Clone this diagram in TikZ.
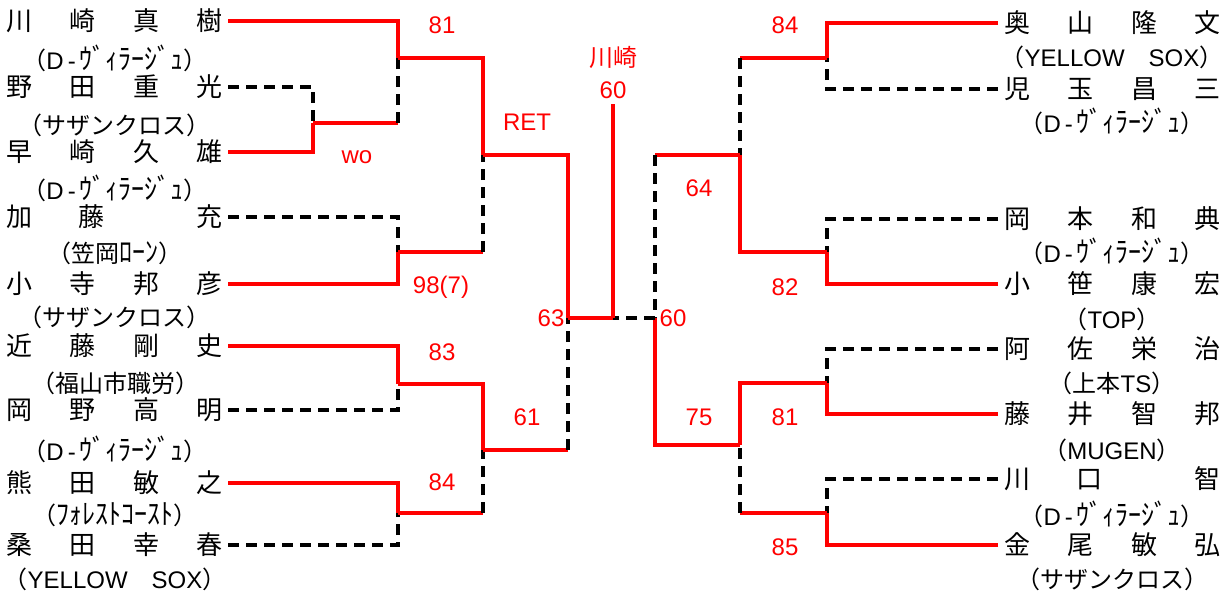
\documentclass[tikz,border=0pt]{standalone}
\usepackage{fontspec}
\usepackage{graphicx}
\newfontfamily\jpfont{Noto Sans CJK JP}
\newfontfamily\numfont{Liberation Sans}
\newcommand{\nmfour}[4]{\makebox[216pt][s]{#1\hfill#2\hfill#3\hfill#4}}
\newcommand{\nmthree}[3]{\makebox[216pt][s]{#1\hfill#2\hfill\hfill#3}}
\newcommand{\hw}[1]{\scalebox{1.08}[1.2]{#1}}
\newcommand{\lat}[1]{{\numfont #1}}

\tikzset{every picture/.style={line width=0.75pt}}
\tikzset{
  lname/.style={anchor=east, inner xsep=5pt, inner ysep=0pt, font=\jpfont\fontsize{26}{30}\selectfont},
  rname/.style={anchor=west, inner xsep=6pt, inner ysep=0pt, font=\jpfont\fontsize{26}{30}\selectfont},
  team/.style={anchor=base, inner sep=0pt, font=\jpfont\fontsize{24}{28}\selectfont},
  score/.style={text=red, inner sep=0pt, font=\numfont\fontsize{24}{28}\selectfont},
  win/.style={draw=red, line width=3.4pt},
  lose/.style={draw=black, line width=3.4pt, dash pattern=on 11pt off 7pt},
}

\begin{document}
\begin{tikzpicture}[x=1pt,y=1pt,yscale=-1,xscale=1]
\useasboundingbox (0,0) rectangle (1221,592);

% left players
\node[lname] (p1) at (228,21) {\nmfour{川}{崎}{真}{樹}};
\node[team] (t1) at (115,69) {（\lat{D}\,\lat{-}\,\hw{ｳﾞｨﾗｰｼﾞｭ}）};
\node[lname] (p2) at (228,87) {\nmfour{野}{田}{重}{光}};
\node[team] (t2) at (115,134) {（サザンクロス）};
\node[lname] (p3) at (228,152) {\nmfour{早}{崎}{久}{雄}};
\node[team] (t3) at (115,199) {（\lat{D}\,\lat{-}\,\hw{ｳﾞｨﾗｰｼﾞｭ}）};
\node[lname] (p4) at (228,217) {\nmthree{加}{藤}{充}};
\node[team] (t4) at (115,262) {（笠岡\hw{ﾛｰﾝ}）};
\node[lname] (p5) at (228,284) {\nmfour{小}{寺}{邦}{彦}};
\node[team] (t5) at (115,326) {（サザンクロス）};
\node[lname] (p6) at (228,346) {\nmfour{近}{藤}{剛}{史}};
\node[team] (t6) at (115,392) {（福山市職労）};
\node[lname] (p7) at (228,410) {\nmfour{岡}{野}{高}{明}};
\node[team] (t7) at (115,460) {（\lat{D}\,\lat{-}\,\hw{ｳﾞｨﾗｰｼﾞｭ}）};
\node[lname] (p8) at (228,483) {\nmfour{熊}{田}{敏}{之}};
\node[team] (t8) at (115,524) {（\hw{ﾌｫﾚｽﾄｺｰｽﾄ}）};
\node[lname] (p9) at (228,545) {\nmfour{桑}{田}{幸}{春}};
\node[team] (t9) at (115,588) {（\lat{YELLOW}　\lat{SOX}）};

% right players
\node[rname] (q1) at (998,23) {\nmfour{奥}{山}{隆}{文}};
\node[team] (u1) at (1112,66) {（\lat{YELLOW}　\lat{SOX}）};
\node[rname] (q2) at (998,89) {\nmfour{児}{玉}{昌}{三}};
\node[team] (u2) at (1112,132) {（\lat{D}\,\lat{-}\,\hw{ｳﾞｨﾗｰｼﾞｭ}）};
\node[rname] (q3) at (998,219) {\nmfour{岡}{本}{和}{典}};
\node[team] (u3) at (1112,262) {（\lat{D}\,\lat{-}\,\hw{ｳﾞｨﾗｰｼﾞｭ}）};
\node[rname] (q4) at (998,284) {\nmfour{小}{笹}{康}{宏}};
\node[team] (u4) at (1112,328) {（\lat{TOP}）};
\node[rname] (q5) at (998,349) {\nmfour{阿}{佐}{栄}{治}};
\node[team] (u5) at (1112,392) {（上本\lat{TS}）};
\node[rname] (q6) at (998,414) {\nmfour{藤}{井}{智}{邦}};
\node[team] (u6) at (1112,459) {（\lat{MUGEN}）};
\node[rname] (q7) at (998,479) {\nmthree{川}{口}{智}};
\node[team] (u7) at (1112,525) {（\lat{D}\,\lat{-}\,\hw{ｳﾞｨﾗｰｼﾞｭ}）};
\node[rname] (q8) at (998,545) {\nmfour{金}{尾}{敏}{弘}};
\node[team] (u8) at (1112,588) {（サザンクロス）};

% match points
\coordinate (m0) at (313,123);
\coordinate (m1) at (398,58);
\coordinate (m2) at (398,252);
\coordinate (m3) at (483,155);
\coordinate (m6) at (398,384);
\coordinate (m7) at (398,513);
\coordinate (m5) at (483,450);
\coordinate (m4) at (568,318);
\coordinate (fc) at (613,318);
\coordinate (r1) at (827,58);
\coordinate (r2) at (827,252);
\coordinate (r3) at (740,155);
\coordinate (r5) at (827,383);
\coordinate (r6) at (827,513);
\coordinate (r4) at (740,445);
\coordinate (r7) at (655,318);

% left bracket
\draw[lose] (p2.east) -| (m0);
\draw[win] (p3.east) -| (m0);
\draw[win] (p1.east) -| (m1);
\draw[win] (m0) -- (m0-|m1);
\draw[lose] (m0-|m1) -- (m1);
\draw[lose] (p4.east) -| (m2);
\draw[win] (p5.east) -| (m2);
\draw[win] (m1) -| (m3);
\draw[win] (m2) -- (m2-|m3);
\draw[lose] (m2-|m3) -- (m3);
\draw[win] (p6.east) -| (m6);
\draw[lose] (p7.east) -| (m6);
\draw[win] (p8.east) -| (m7);
\draw[lose] (p9.east) -| (m7);
\draw[win] (m6) -| (m5);
\draw[win] (m7) -- (m7-|m5);
\draw[lose] (m7-|m5) -- (m5);
\draw[win] (m3) -| (m4);
\draw[win] (m5) -- (m5-|m4);
\draw[lose] (m5-|m4) -- (m4);

% right bracket
\draw[win] (q1.west) -| (r1);
\draw[lose] (q2.west) -| (r1);
\draw[lose] (q3.west) -| (r2);
\draw[win] (q4.west) -| (r2);
\draw[win] (r1) -- (r1-|r3);
\draw[lose] (r1-|r3) -- (r3);
\draw[win] (r2) -| (r3);
\draw[lose] (q5.west) -| (r5);
\draw[win] (q6.west) -| (r5);
\draw[lose] (q7.west) -| (r6);
\draw[win] (q8.west) -| (r6);
\draw[win] (r5) -| (r4);
\draw[win] (r6) -- (r6-|r4);
\draw[lose] (r6-|r4) -- (r4);
\draw[win] (r3) -- (r3-|r7);
\draw[lose] (r3-|r7) -- (r7);
\draw[win] (r4) -| (r7);

% final
\node[score, font=\jpfont\fontsize{24}{28}\selectfont] (cw) at (613,57) {川崎};
\node[score] (cs) at (613,90) {60};
\draw[lose] (r7) -- (fc);
\draw[win] (m4) -- (fc);
\draw[win, shorten >=5pt] (fc) -- (cs.south);

% scores
\node[score] (s1) at (442,25) {81};
\node[score] (s2) at (357,157) {wo};
\node[score] (s3) at (527,122) {RET};
\node[score] (s4) at (441,287) {98(7)};
\node[score] (s5) at (442,352) {83};
\node[score] (s6) at (527,417) {61};
\node[score] (s7) at (442,482) {84};
\node[score] (s8) at (551,318) {63};
\node[score] (s9) at (673,318) {60};
\node[score] (s10) at (785,25) {84};
\node[score] (s11) at (699,188) {64};
\node[score] (s12) at (785,287) {82};
\node[score] (s13) at (699,417) {75};
\node[score] (s14) at (785,417) {81};
\node[score] (s15) at (785,547) {85};

\end{tikzpicture}
\end{document}
